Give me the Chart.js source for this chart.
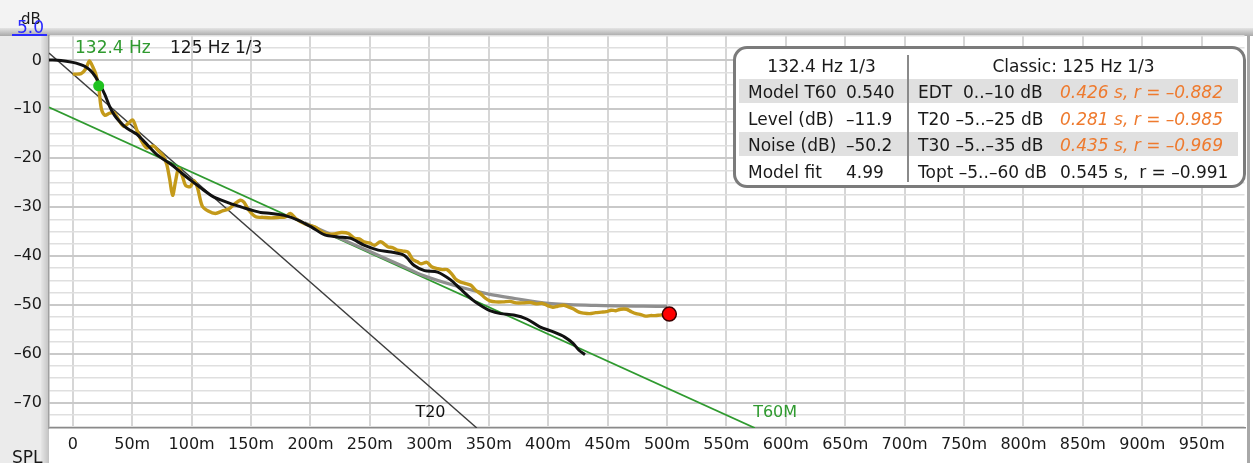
<!DOCTYPE html>
<html>
<head>
<meta charset="utf-8">
<title>Decay 125 Hz</title>
<script src="https://cdn.jsdelivr.net/npm/chart.js@4.4.1/dist/chart.umd.min.js"></script>
<style>
  body { margin: 0; background: #f2f2f2; font-family: "DejaVu Sans", sans-serif; }
  #wrap { position: relative; width: 1253px; height: 463px; overflow: hidden; }
  #decay { position: absolute; left: 0; top: 0; }
  .txt { position: absolute; white-space: pre; line-height: 20px; font-size: 17px; color: #1a1a1a; }
  #box { position: absolute; left: 733px; top: 46px; width: 513px; height: 142px; box-sizing: border-box;
         border: 3px solid #7b7b7b; border-radius: 14px; background: #fff; }
  .stripe { position: absolute; left: 739px; width: 499px; height: 24px; background: #e0e0e0; }
  #divider { position: absolute; left: 907px; top: 55px; width: 2px; height: 127px; background: #8a8a8a; }
  .orange { color: #ee7a2e; font-style: italic; }
</style>
</head>
<body>
<div id="wrap">
  <canvas id="decay" width="1253" height="463"></canvas>
  <div class="txt" style="left:21px; top:9px; font-size:15px;">dB</div>
  <div class="txt" style="left:17px; top:17px; color:#2a2aff;">5.0</div>
  <div style="position:absolute; left:12px; top:34px; width:35px; height:1.5px; background:#2a2aff;"></div>
  <div class="txt" style="left:12px; top:447px;">SPL</div>
  <div class="txt" style="left:75px; top:37px; color:#2f9a2f;">132.4 Hz</div>
  <div class="txt" style="left:170px; top:37px;">125 Hz 1/3</div>
  <div id="box"></div>
  <div id="panel"></div>
</div>
<script>
// axis ticks
const xTicks = [0, 50, 100, 150, 200, 250, 300, 350, 400, 450, 500, 550, 600, 650, 700, 750, 800, 850, 900, 950];
const yLabels = [0, -10, -20, -30, -40, -50, -60, -70];

// 1/3 octave band energy (gold)
const etcTime = [0, 7, 11, 14, 17, 19.5, 22, 24, 27, 31, 35, 39, 43, 47, 50.5, 54, 58, 62, 65, 68, 72, 76, 79, 81.5, 84,
  86.5, 89, 92, 95, 99, 102, 105, 109, 114, 120, 126, 131, 136, 141, 144, 148, 154, 160, 167, 174, 179, 183, 188, 195,
  204, 212, 220, 226, 232, 237, 241, 245, 250, 254, 259, 265, 269, 273, 278, 282, 286, 290, 293, 298, 302, 307, 311,
  315, 319, 322, 326, 330, 335, 339, 343, 347, 351, 356, 362, 368, 373, 379, 385, 390, 395, 400, 404, 408, 413, 417,
  421, 426, 430, 435, 440, 445, 449, 453, 457, 461, 466, 470, 474, 478, 482, 486, 490, 494, 502];
const etcLevel = [-2.8, -2.7, -1.7, -0.1, -1.4, -2.9, -5.8, -9.8, -11.2, -10.8, -10.7, -12.3, -13.5, -12.8, -12.2, -14.3,
  -16.5, -17.9, -17.7, -17.5, -18.5, -19.5, -21.2, -24.2, -27.6, -24.7, -22.1, -23.5, -25.6, -25.8, -24.6, -26.1, -29.8,
  -30.8, -31.3, -30.8, -30.4, -29.4, -28.6, -29.0, -30.6, -32.0, -32.1, -32.2, -32.1, -32.0, -31.3, -32.4, -33.4, -34.1,
  -35.4, -35.5, -35.2, -35.4, -36.4, -36.5, -37.1, -37.4, -37.8, -37.1, -38.1, -38.3, -38.8, -39.0, -39.2, -40.7, -41.2,
  -41.6, -41.3, -42.2, -42.6, -42.8, -42.8, -43.7, -44.7, -45.3, -45.6, -46.0, -47.0, -47.7, -48.6, -49.2, -49.4, -49.4,
  -49.3, -49.6, -49.6, -49.5, -49.8, -49.7, -50.2, -50.5, -50.3, -50.1, -50.4, -50.8, -51.5, -51.7, -51.8, -51.6, -51.5,
  -51.4, -51.1, -51.2, -50.9, -50.9, -51.4, -51.8, -52.0, -52.3, -52.2, -52.2, -52.1, -51.9];

// smoothed decay (black)
const decayTime = [-20, -10, 0, 6, 10, 15, 19, 23, 27, 31, 35, 39, 44, 49, 54, 59, 64, 70, 78, 84, 90, 96, 103, 110, 117,
  125, 134, 142, 150, 158, 167, 178, 190, 201, 212, 223, 234, 245, 257, 268, 279, 287, 296, 307, 318, 326, 337, 345, 351,
  360, 371, 382, 393, 404, 414, 421, 426, 431];
const decayLevel = [0.1, 0, -0.4, -0.8, -1.2, -2.1, -3.3, -5.0, -7.0, -9.4, -11.2, -12.4, -13.6, -14.4, -15.1, -16.3,
  -17.6, -19.1, -20.5, -21.5, -22.7, -23.9, -25.2, -26.5, -27.7, -28.6, -29.4, -30.0, -30.6, -31.1, -31.3, -31.7, -32.7,
  -34.1, -35.7, -36.1, -36.4, -37.8, -38.8, -39.2, -39.9, -41.9, -43.0, -43.3, -44.9, -46.7, -49.1, -50.4, -51.2, -51.8,
  -52.1, -52.9, -54.5, -55.5, -56.6, -57.9, -59.3, -60.2];

// model fit with noise floor (gray)
const modelTime = [195, 225, 250, 275, 295, 325, 350, 372, 400, 440, 500];
const modelLevel = [-33.2, -36.4, -39.1, -41.8, -44.0, -46.3, -47.8, -48.7, -49.7, -50.1, -50.3];

// regression lines: start / end
const t60mLine = [[-20, -9.6], [574, -75.2]];
const t20Line = [[-20, 1.5], [340, -75.2]];

const startMark = [21.8, -5.2];
const endMark = [502, -51.9];

const pts = (ts, ls) => ts.map((t, i) => ({ x: t, y: ls[i] }));
const pairs = arr => arr.map(p => ({ x: p[0], y: p[1] }));
const dash = v => (v < 0 ? '\u2013' + Math.abs(v) : String(v));

const frame = {
  id: 'frame',
  beforeDraw(chart) {
    const ctx = chart.ctx;
    const W = chart.width, H = chart.height;
    ctx.save();
    ctx.fillStyle = '#f3f3f3';
    ctx.fillRect(0, 0, W, H);
    ctx.fillStyle = '#ffffff';
    ctx.fillRect(49, 36, W - 49, H - 36);
    let g = ctx.createLinearGradient(0, 28, 0, 36);
    g.addColorStop(0, '#e4e4e4');
    g.addColorStop(1, '#a8a8a8');
    ctx.fillStyle = g;
    ctx.fillRect(0, 28, W, 8);
    ctx.fillStyle = '#ebebeb';
    ctx.fillRect(0, 36, 41, H - 36);
    g = ctx.createLinearGradient(41, 0, 49, 0);
    g.addColorStop(0, '#e6e6e6');
    g.addColorStop(1, '#c2c2c2');
    ctx.fillStyle = g;
    ctx.fillRect(41, 36, 8, H - 36);
    ctx.fillStyle = '#a8a8a8';
    ctx.fillRect(1247, 36, 3, H - 36);
    ctx.restore();
  },
  afterDatasetsDraw(chart) {
    const ctx = chart.ctx;
    const xs = chart.scales.x, ys = chart.scales.y;
    ctx.save();
    ctx.font = '16px "DejaVu Sans"';
    ctx.textAlign = 'center';
    ctx.textBaseline = 'middle';
    ctx.fillStyle = '#111';
    ctx.fillText('T20', xs.getPixelForValue(301), ys.getPixelForValue(-72));
    ctx.fillStyle = '#2f9a2f';
    ctx.fillText('T60M', xs.getPixelForValue(591), ys.getPixelForValue(-72));
    ctx.restore();
  }
};

new Chart(document.getElementById('decay').getContext('2d'), {
  type: 'scatter',
  data: {
    datasets: [
      { data: [{ x: endMark[0], y: endMark[1] }], backgroundColor: '#ff0000', borderColor: '#3a0000',
        borderWidth: 1.5, pointRadius: 7, showLine: false },
      { data: [{ x: startMark[0], y: startMark[1] }], backgroundColor: '#1fc21f', borderColor: '#1fc21f',
        borderWidth: 0, pointRadius: 5.5, showLine: false },
      { data: pts(decayTime, decayLevel), borderColor: '#111111', borderWidth: 3, showLine: true,
        pointRadius: 0, tension: 0.3 },
      { data: pts(etcTime, etcLevel), borderColor: '#c49a1a', borderWidth: 3.4, showLine: true,
        pointRadius: 0, tension: 0.3 },
      { data: pts(modelTime, modelLevel), borderColor: '#8f8f8f', borderWidth: 3.2, showLine: true,
        pointRadius: 0, cubicInterpolationMode: 'monotone' },
      { data: pairs(t60mLine), borderColor: '#2f9a2f', borderWidth: 1.8, showLine: true, pointRadius: 0 },
      { data: pairs(t20Line), borderColor: '#3c3c3c', borderWidth: 1.4, showLine: true, pointRadius: 0 }
    ]
  },
  options: {
    responsive: false,
    animation: false,
    events: [],
    layout: { padding: { top: 36, right: 6, left: 0, bottom: 0 } },
    plugins: { legend: { display: false }, tooltip: { enabled: false } },
    scales: {
      x: {
        type: 'linear',
        min: -20,
        max: 986,
        afterFit: s => { s.height = 35; },
        afterBuildTicks: s => { s.ticks = xTicks.map(v => ({ value: v })); },
        grid: { color: '#d6d6d6', lineWidth: 2, drawTicks: false },
        border: { color: '#8a8a8a', width: 1.5 },
        ticks: {
          padding: 7,
          color: '#1a1a1a',
          font: { family: 'DejaVu Sans', size: 16 },
          maxRotation: 0,
          autoSkip: false,
          callback: v => (v === 0 ? '0' : v + 'm')
        }
      },
      y: {
        type: 'linear',
        min: -75.2,
        max: 5,
        afterFit: s => { s.width = 49; },
        afterBuildTicks: s => {
          const t = [];
          for (let v = 5; v >= -75; v -= 2.5) t.push({ value: v });
          s.ticks = t;
        },
        grid: {
          drawTicks: false,
          color: c => (c.tick && c.tick.value % 10 === 0 ? '#c9c9c9' : '#dfdfdf'),
          lineWidth: c => (c.tick && c.tick.value % 10 === 0 ? 2 : 1.5)
        },
        border: { color: '#a0a0a0', width: 1.5 },
        ticks: {
          padding: 7,
          color: '#1a1a1a',
          font: { family: 'DejaVu Sans', size: 16 },
          autoSkip: false,
          callback: v => (yLabels.includes(v) ? dash(v) : '')
        }
      }
    }
  },
  plugins: [frame]
});

// summary panel
const headLeft = '132.4 Hz 1/3';
const headRight = 'Classic: 125 Hz 1/3';
const fitNames = ['Model T60', 'Level (dB)', 'Noise (dB)', 'Model fit'];
const fitValues = ['0.540', '\u201311.9', '\u201350.2', '4.99'];
const classicNames = ['EDT  0..\u201310 dB', 'T20 \u20135..\u201325 dB', 'T30 \u20135..\u201335 dB', 'Topt \u20135..\u201360 dB'];
const classicValues = ['0.426 s, r = \u20130.882', '0.281 s, r = \u20130.985', '0.435 s, r = \u20130.969', '0.545 s,  r = \u20130.991'];
const classicWarn = [true, true, true, false];

const panel = document.getElementById('panel');
const rowTop = [56, 82, 108.5, 135, 161.5];
function put(text, left, top, cls, extra) {
  const d = document.createElement('div');
  d.className = 'txt' + (cls ? ' ' + cls : '');
  d.textContent = text;
  d.style.left = left + 'px';
  d.style.top = top + 'px';
  if (extra) Object.assign(d.style, extra);
  panel.appendChild(d);
  return d;
}
[1, 3].forEach(i => {
  const s = document.createElement('div');
  s.className = 'stripe';
  s.style.top = (rowTop[i] - 3) + 'px';
  panel.appendChild(s);
});
const dv = document.createElement('div');
dv.id = 'divider';
panel.appendChild(dv);
put(headLeft, 736, rowTop[0], '', { width: '171px', textAlign: 'center' });
put(headRight, 909, rowTop[0], '', { width: '329px', textAlign: 'center' });
fitNames.forEach((n, i) => {
  put(n, 748, rowTop[i + 1]);
  put(fitValues[i], 846, rowTop[i + 1]);
  put(classicNames[i], 918, rowTop[i + 1]);
  put(classicValues[i], 1060, rowTop[i + 1], classicWarn[i] ? 'orange' : '');
});
</script>
</body>
</html>
